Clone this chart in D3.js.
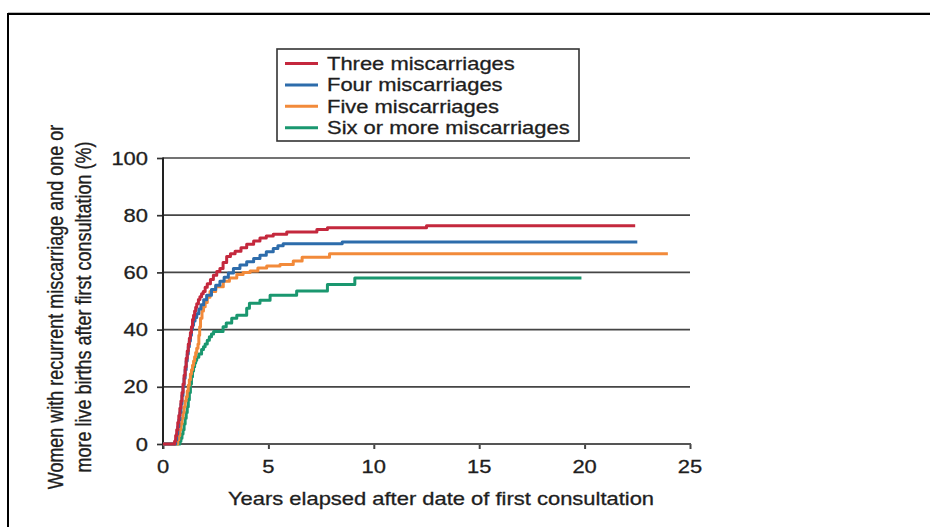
<!DOCTYPE html>
<html>
<head>
<meta charset="utf-8">
<script src="https://cdn.jsdelivr.net/npm/d3@7"></script>
<style>
  html, body { margin: 0; padding: 0; background: #fff; }
  svg { display: block; font-family: "Liberation Sans", Arial, Helvetica, sans-serif; }
</style>
</head>
<body>
<svg id="chart" width="930" height="527"></svg>
<script>
// Cumulative share of women with one or more live births, by years since first consultation
const seriesNames = ["Three miscarriages", "Four miscarriages", "Five miscarriages", "Six or more miscarriages"];
const seriesColors = ["#c4283d", "#2d6cab", "#f28a3a", "#1a976f"];

// [years, percent] step points
const threeMiscarriages = [[0,0],[0.5,0],[0.55,1],[0.6,3],[0.65,5],[0.7,7.5],[0.75,10],[0.8,12.5],[0.85,15],[0.9,18],[0.95,21],[1.0,24],[1.05,27],[1.1,30],[1.15,32.5],[1.2,35],[1.25,37],[1.3,39],[1.35,41],[1.4,43.5],[1.45,45],[1.5,46.5],[1.55,47.8],[1.6,49],[1.68,50.5],[1.75,51.5],[1.83,52.5],[1.91,53.3],[2.0,54.8],[2.1,56],[2.25,57.5],[2.39,59],[2.55,60.3],[2.7,61.4],[2.85,63.5],[3.02,65.6],[3.2,66.5],[3.42,67.4],[3.7,68.6],[3.97,69.8],[4.3,71],[4.6,72],[4.9,72.7],[5.23,73.3],[5.87,74.1],[7.3,75],[7.8,75.6],[12.5,76.3],[22.4,76.3]];
const fourMiscarriages = [[0,0],[0.55,0],[0.6,1.5],[0.65,3.5],[0.7,6],[0.75,8.5],[0.8,11],[0.85,14],[0.9,17],[0.95,20],[1.0,23],[1.05,26],[1.1,29],[1.15,31.5],[1.2,34],[1.25,36],[1.3,38],[1.35,40],[1.4,41.5],[1.45,43],[1.52,44.2],[1.6,45.5],[1.7,47.2],[1.8,48.7],[1.93,50.4],[2.07,52],[2.3,54],[2.5,55.5],[2.7,56.9],[2.9,58.3],[3.1,59.8],[3.34,61.4],[3.65,62.6],[3.97,63.7],[4.3,64.9],[4.6,66],[4.9,67.2],[5.23,68.4],[5.45,69.3],[5.7,70],[8.5,70.6],[22.5,70.6]];
const fiveMiscarriages = [[0,0],[0.65,0],[0.7,1.5],[0.75,3],[0.8,5],[0.85,7],[0.9,9],[0.95,11],[1.0,13],[1.05,15],[1.1,16.5],[1.15,18.5],[1.2,20.5],[1.25,22.5],[1.3,24.5],[1.35,26],[1.4,27.5],[1.45,29],[1.5,30.5],[1.55,32],[1.6,33.5],[1.66,35],[1.7,38],[1.74,41],[1.78,44],[1.85,46.5],[1.92,48],[2.0,49.5],[2.1,51.3],[2.23,53.3],[2.5,55],[2.86,56.9],[3.15,58],[3.5,59.3],[3.8,60],[4.13,60.5],[4.5,61.5],[4.92,62.2],[5.55,62.8],[6.18,64],[6.6,65.3],[7.9,66.5],[23.95,66.5]];
const sixOrMoreMiscarriages = [[0,0],[0.75,0],[0.8,1],[0.85,2],[0.9,3.5],[0.95,5],[1.0,7],[1.05,9],[1.1,11],[1.15,13],[1.2,15.5],[1.25,18],[1.3,21],[1.35,23.5],[1.4,25.5],[1.45,27],[1.5,28.3],[1.55,29.3],[1.6,30.3],[1.7,31.5],[1.83,33],[1.92,34],[2.0,35],[2.1,36.3],[2.2,37.5],[2.3,38.5],[2.4,39.3],[2.85,41],[3.0,42.3],[3.26,44],[3.5,45],[3.97,47.5],[4.1,49.2],[4.6,50.3],[5.08,52],[6.34,53.5],[7.8,55.8],[9.1,58],[19.85,58]];

const xTicks = [0, 5, 10, 15, 20, 25];
const yTicks = [0, 20, 40, 60, 80, 100];
const xTitle = "Years elapsed after date of first consultation";
const yTitleLines = ["Women with recurrent miscarriage and one or", "more live births after first consultation (%)"];

const allSeries = [threeMiscarriages, fourMiscarriages, fiveMiscarriages, sixOrMoreMiscarriages];

const svg = d3.select("#chart");
const FS = 18;        // font size
const SX = 1.22;      // horizontal glyph stretch
const TEXT_FILL = "#1e1e1e";

const x = d3.scaleLinear().domain([0, 25]).range([163, 690]);
const y = d3.scaleLinear().domain([0, 100]).range([444, 158]);

// outer frame
svg.append("line").attr("x1", 8).attr("x2", 930).attr("y1", 12.5).attr("y2", 12.5)
  .attr("stroke", "#bbb").attr("stroke-width", 1);
svg.append("rect").attr("x", 8).attr("y", 14).attr("width", 940).attr("height", 540)
  .attr("fill", "none").attr("stroke", "#000").attr("stroke-width", 2);

function styleText(t) {
  return t.attr("font-size", FS)
    .attr("fill", TEXT_FILL)
    .attr("stroke", TEXT_FILL)
    .attr("stroke-width", 0.3);
}

function stretchedText(g, tx, ty, str, anchor) {
  return styleText(g.append("text")
    .attr("transform", `translate(${tx},${ty}) scale(${SX},1)`)
    .attr("text-anchor", anchor)
    .text(str));
}

// horizontal grid lines
svg.append("g").selectAll("line").data(yTicks.filter(d => d > 0)).join("line")
  .attr("x1", x(0)).attr("x2", x(25))
  .attr("y1", d => y(d)).attr("y2", d => y(d))
  .attr("stroke", "#454545").attr("stroke-width", 1.7);

// y axis
const yAxis = d3.axisLeft(y).tickValues(yTicks).tickSize(6).tickFormat("");
const gy = svg.append("g").attr("transform", `translate(${x(0)},0)`).call(yAxis);
gy.select(".domain").remove();
gy.selectAll(".tick line").attr("stroke", "#333").attr("stroke-width", 1.7);
svg.append("line").attr("x1", x(0)).attr("x2", x(0)).attr("y1", y(100) - 0.5).attr("y2", y(0) + 5)
  .attr("stroke", "#222").attr("stroke-width", 2);

// x axis
const xAxis = d3.axisBottom(x).tickValues(xTicks).tickSize(5).tickFormat("");
const gx = svg.append("g").attr("transform", `translate(0,${y(0)})`).call(xAxis);
gx.select(".domain").remove();
gx.selectAll(".tick line").attr("stroke", "#444").attr("stroke-width", 2);
svg.append("line").attr("x1", x(0)).attr("x2", x(25) + 1).attr("y1", y(0)).attr("y2", y(0))
  .attr("stroke", "#555").attr("stroke-width", 2);

// tick labels
const labels = svg.append("g");
yTicks.forEach(d => stretchedText(labels, 148, y(d) + 6.5, d, "end"));
xTicks.forEach(d => stretchedText(labels, x(d), 473, d, "middle"));

// axis titles
stretchedText(svg, 441, 505, xTitle, "middle");
yTitleLines.forEach((line, i) => {
  styleText(svg.append("text")
    .attr("transform", `translate(${63 + i * 27.5},307) scale(${SX},1) rotate(-90)`)
    .attr("text-anchor", "middle")
    .text(line));
});

// survival-style step curves, drawn so the three-miscarriage curve sits on top
const line = d3.line().x(d => x(d[0])).y(d => y(d[1])).curve(d3.curveStepAfter);
const order = [3, 2, 1, 0];
svg.append("g").selectAll("path").data(order).join("path")
  .attr("d", i => line(allSeries[i]))
  .attr("fill", "none")
  .attr("stroke", i => seriesColors[i])
  .attr("stroke-width", 3)
  .attr("stroke-linejoin", "round");

// legend
const legend = svg.append("g");
legend.append("rect").attr("x", 277).attr("y", 49).attr("width", 302).attr("height", 92)
  .attr("fill", "#fff").attr("stroke", "#333").attr("stroke-width", 1.6);
seriesNames.forEach((name, i) => {
  const cy = 63.5 + i * 21.4;
  legend.append("line").attr("x1", 285).attr("x2", 318).attr("y1", cy).attr("y2", cy)
    .attr("stroke", seriesColors[i]).attr("stroke-width", 3);
  stretchedText(legend, 327, cy + 6.3, name, "start");
});
</script>
</body>
</html>
